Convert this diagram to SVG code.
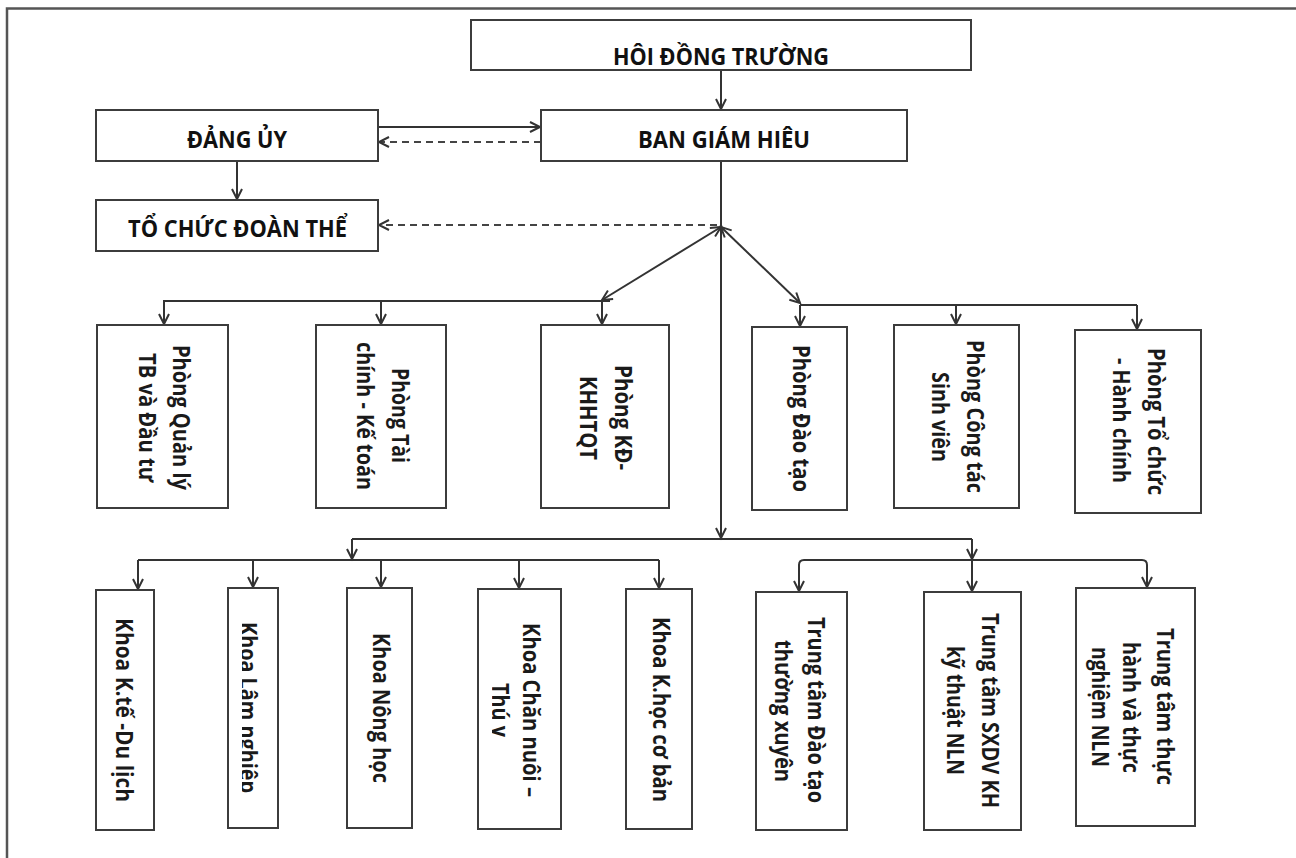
<svg xmlns="http://www.w3.org/2000/svg" width="1296" height="858" viewBox="0 0 1296 858">
<style>
.box{fill:#fff;stroke:#3c3c3c;stroke-width:2}
.hd{font-family:"Open Sans","Noto Sans",sans-serif;font-weight:700;font-size:23px;fill:#111}
.rt{font-family:"Open Sans","Noto Sans",sans-serif;font-weight:700;font-size:24px;fill:#1a1a1a}
.ln{fill:none;stroke:#333;stroke-width:2}
.ds{fill:none;stroke:#444;stroke-width:2;stroke-dasharray:7 5}
</style>
<defs>
<marker id="ah" markerUnits="userSpaceOnUse" markerWidth="14" markerHeight="14" refX="11" refY="6" orient="auto-start-reverse">
<path d="M1,1 L11,6 L1,11" fill="none" stroke="#333" stroke-width="2"/>
</marker>
<clipPath id="clipLam"><rect x="242" y="580" width="40" height="260"/></clipPath>
<clipPath id="clipThu"><rect x="492" y="580" width="70" height="260"/></clipPath>
</defs>
<rect width="1296" height="858" fill="#fff"/>
<path d="M7,858 V8.5 H1296" fill="none" stroke="#555" stroke-width="2.5"/>

<g id="connectors">
<line class="ln" x1="721" y1="70" x2="721" y2="109" marker-end="url(#ah)"/>
<line class="ln" x1="378" y1="127" x2="540" y2="127" marker-end="url(#ah)"/>
<line class="ds" x1="541" y1="142" x2="379" y2="142" marker-end="url(#ah)"/>
<line class="ln" x1="237" y1="161" x2="237" y2="199" marker-end="url(#ah)"/>
<line class="ds" x1="717" y1="225" x2="379" y2="225" marker-end="url(#ah)"/>
<line class="ln" x1="721" y1="161" x2="721" y2="538" marker-end="url(#ah)"/>
<line class="ln" x1="721" y1="227" x2="602" y2="300" marker-start="url(#ah)" marker-end="url(#ah)"/>
<line class="ln" x1="721" y1="227" x2="800" y2="303" marker-start="url(#ah)" marker-end="url(#ah)"/>
<path class="ln" d="M164,324 V301 H610"/>
<line class="ln" x1="164" y1="301" x2="164" y2="324" marker-end="url(#ah)"/>
<line class="ln" x1="381" y1="301" x2="381" y2="324" marker-end="url(#ah)"/>
<line class="ln" x1="602" y1="301" x2="602" y2="324" marker-end="url(#ah)"/>
<path class="ln" d="M800,305 H1137"/>
<line class="ln" x1="800" y1="305" x2="800" y2="326" marker-end="url(#ah)"/>
<line class="ln" x1="956" y1="305" x2="956" y2="324" marker-end="url(#ah)"/>
<line class="ln" x1="1137" y1="305" x2="1137" y2="329" marker-end="url(#ah)"/>
<path class="ln" d="M352,539 H972"/>
<line class="ln" x1="352" y1="539" x2="352" y2="559" marker-end="url(#ah)"/>
<line class="ln" x1="972" y1="539" x2="972" y2="559" marker-end="url(#ah)"/>
<path class="ln" d="M138,560 H659"/>
<line class="ln" x1="138" y1="560" x2="138" y2="589" marker-end="url(#ah)"/>
<line class="ln" x1="253" y1="560" x2="253" y2="587" marker-end="url(#ah)"/>
<line class="ln" x1="381" y1="560" x2="381" y2="587" marker-end="url(#ah)"/>
<line class="ln" x1="519" y1="560" x2="519" y2="588" marker-end="url(#ah)"/>
<line class="ln" x1="659" y1="560" x2="659" y2="588" marker-end="url(#ah)"/>
<path class="ln" d="M799,591 V565 Q799,560 804,560 H1142 Q1147,560 1147,565"/>
<line class="ln" x1="799" y1="565" x2="799" y2="591" marker-end="url(#ah)"/>
<line class="ln" x1="972" y1="560" x2="972" y2="591" marker-end="url(#ah)"/>
<line class="ln" x1="1147" y1="565" x2="1147" y2="587" marker-end="url(#ah)"/>
</g>

<g id="hoi-dong-truong">
<rect class="box" x="471" y="20" width="500" height="50"/>
<text class="hd" x="613" y="65" textLength="216" lengthAdjust="spacingAndGlyphs">HÔI ĐỒNG TRƯỜNG</text>
</g>
<g id="ban-giam-hieu">
<rect class="box" x="541" y="110" width="366" height="51"/>
<text class="hd" x="638" y="148" font-size="24" textLength="172" lengthAdjust="spacingAndGlyphs">BAN GIÁM HIÊU</text>
</g>
<g id="dang-uy">
<rect class="box" x="96" y="110" width="282" height="51"/>
<text class="hd" x="187" y="148" textLength="100" lengthAdjust="spacingAndGlyphs">ĐẢNG ỦY</text>
</g>
<g id="to-chuc-doan-the">
<rect class="box" x="96" y="200" width="282" height="51"/>
<text class="hd" x="128" y="237" textLength="219" lengthAdjust="spacingAndGlyphs">TỔ CHỨC ĐOÀN THỂ</text>
</g>

<g id="phong-quan-ly">
<rect class="box" x="97" y="325" width="131" height="183"/>
<text class="rt" transform="translate(173,345) rotate(90)" textLength="145" lengthAdjust="spacingAndGlyphs">Phòng Quản lý</text>
<text class="rt" transform="translate(139,353) rotate(90)" textLength="129" lengthAdjust="spacingAndGlyphs">TB và Đầu tư</text>
</g>
<g id="phong-tai-chinh">
<rect class="box" x="316" y="325" width="130" height="183"/>
<text class="rt" transform="translate(392,368) rotate(90)" textLength="95" lengthAdjust="spacingAndGlyphs">Phòng Tài</text>
<text class="rt" transform="translate(357,342) rotate(90)" textLength="148" lengthAdjust="spacingAndGlyphs">chính - Kế toán</text>
</g>
<g id="phong-kd">
<rect class="box" x="541" y="325" width="128" height="183"/>
<text class="rt" transform="translate(615,365) rotate(90)" textLength="105" lengthAdjust="spacingAndGlyphs">Phòng KĐ-</text>
<text class="rt" transform="translate(580,376) rotate(90)" textLength="84" lengthAdjust="spacingAndGlyphs">KHHTQT</text>
</g>
<g id="phong-dao-tao">
<rect class="box" x="752" y="327" width="95" height="183"/>
<text class="rt" transform="translate(793,345) rotate(90)" textLength="147" lengthAdjust="spacingAndGlyphs">Phòng Đào tạo</text>
</g>
<g id="phong-cong-tac">
<rect class="box" x="894" y="325" width="125" height="183"/>
<text class="rt" transform="translate(967,340) rotate(90)" textLength="153" lengthAdjust="spacingAndGlyphs">Phòng Công tác</text>
<text class="rt" transform="translate(932,372) rotate(90)" textLength="90" lengthAdjust="spacingAndGlyphs">Sinh viên</text>
</g>
<g id="phong-to-chuc">
<rect class="box" x="1075" y="330" width="126" height="183"/>
<text class="rt" transform="translate(1148,348) rotate(90)" textLength="147" lengthAdjust="spacingAndGlyphs">Phòng Tổ chức</text>
<text class="rt" transform="translate(1113,358) rotate(90)" textLength="125" lengthAdjust="spacingAndGlyphs">- Hành chính</text>
</g>

<g id="khoa-kinh-te">
<rect class="box" x="96" y="590" width="58" height="240"/>
<text class="rt" transform="translate(116,618) rotate(90)" textLength="184" lengthAdjust="spacingAndGlyphs">Khoa K.tế -Du lịch</text>
</g>
<g id="khoa-lam-nghiep">
<rect class="box" x="228" y="588" width="50" height="240"/>
<g clip-path="url(#clipLam)">
<text class="rt" transform="translate(240,622) rotate(90)" textLength="171" lengthAdjust="spacingAndGlyphs">Khoa Lâm nghiệp</text>
</g>
</g>
<g id="khoa-nong-hoc">
<rect class="box" x="347" y="588" width="65" height="240"/>
<text class="rt" transform="translate(373,633) rotate(90)" textLength="150" lengthAdjust="spacingAndGlyphs">Khoa Nông học</text>
</g>
<g id="khoa-chan-nuoi">
<rect class="box" x="478" y="589" width="83" height="240"/>
<text class="rt" transform="translate(523,623) rotate(90)" textLength="174" lengthAdjust="spacingAndGlyphs">Khoa Chăn nuôi –</text>
<g clip-path="url(#clipThu)">
<text class="rt" transform="translate(492,683) rotate(90)" textLength="54" lengthAdjust="spacingAndGlyphs">Thú y</text>
</g>
</g>
<g id="khoa-khoa-hoc-co-ban">
<rect class="box" x="626" y="589" width="66" height="240"/>
<text class="rt" transform="translate(653,617) rotate(90)" textLength="185" lengthAdjust="spacingAndGlyphs">Khoa K.học cơ bản</text>
</g>
<g id="tt-dao-tao">
<rect class="box" x="756" y="592" width="91" height="238"/>
<text class="rt" transform="translate(808,617) rotate(90)" textLength="186" lengthAdjust="spacingAndGlyphs">Trung tâm Đào tạo</text>
<text class="rt" transform="translate(775,640) rotate(90)" textLength="142" lengthAdjust="spacingAndGlyphs">thường xuyên</text>
</g>
<g id="tt-sxdv">
<rect class="box" x="924" y="592" width="97" height="238"/>
<text class="rt" transform="translate(982,613) rotate(90)" textLength="195" lengthAdjust="spacingAndGlyphs">Trung tâm SXDV KH</text>
<text class="rt" transform="translate(947,646) rotate(90)" textLength="129" lengthAdjust="spacingAndGlyphs">kỹ thuật NLN</text>
</g>
<g id="tt-thuc-hanh">
<rect class="box" x="1076" y="588" width="119" height="238"/>
<text class="rt" transform="translate(1157,628) rotate(90)" textLength="157" lengthAdjust="spacingAndGlyphs">Trung tâm thực</text>
<text class="rt" transform="translate(1123,642) rotate(90)" textLength="131" lengthAdjust="spacingAndGlyphs">hành và thực</text>
<text class="rt" transform="translate(1092,647) rotate(90)" textLength="120" lengthAdjust="spacingAndGlyphs">nghiệm NLN</text>
</g>
</svg>
